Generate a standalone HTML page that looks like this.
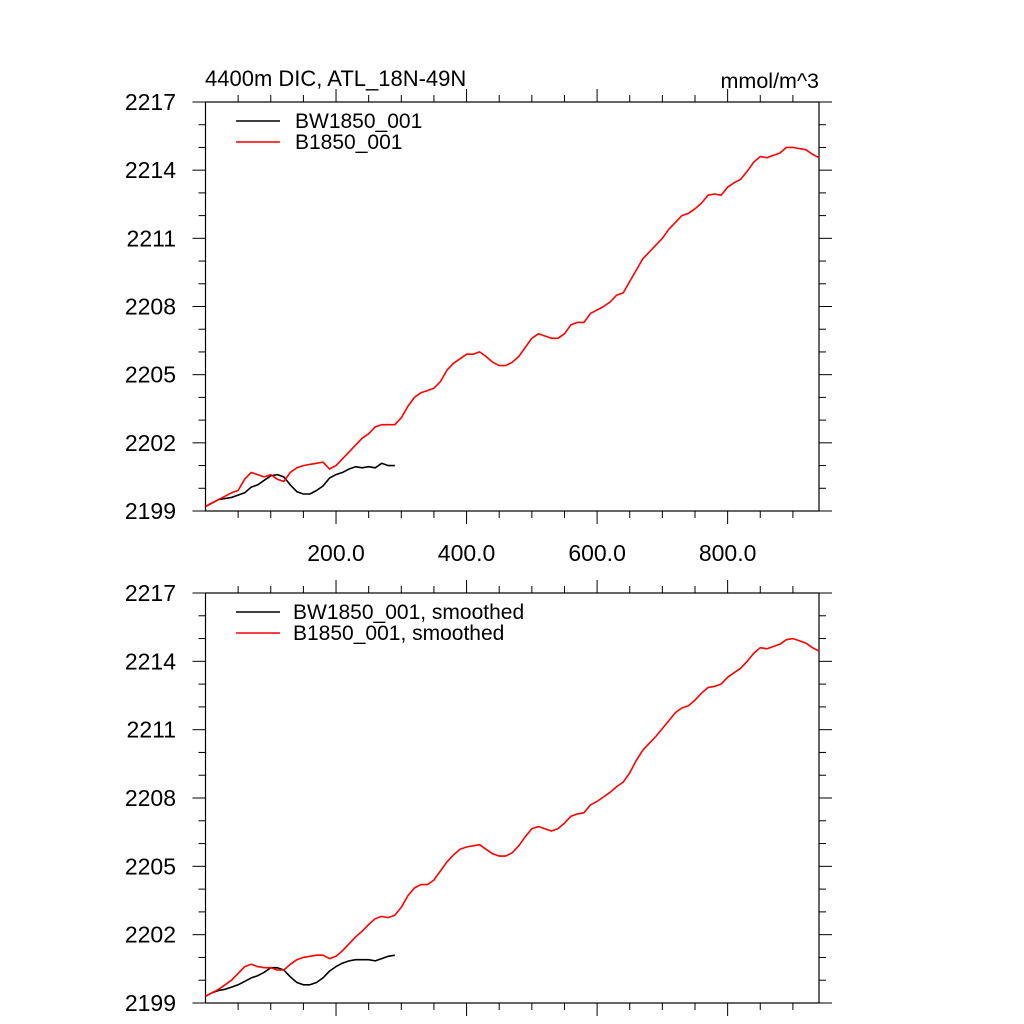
<!DOCTYPE html>
<html><head><meta charset="utf-8"><style>
html,body{margin:0;padding:0;background:#fff;}
svg{display:block;font-family:"Liberation Sans",sans-serif;}
</style></head><body>
<svg id="chart" width="1024" height="1024" viewBox="0 0 1024 1024"></svg>
<script>
const xStep = 10;
const redRaw = [2199.2,2199.35,2199.5,2199.65,2199.8,2199.9,2200.4,2200.7,2200.6,2200.5,2200.6,2200.4,2200.3,2200.7,2200.9,2201.0,2201.05,2201.1,2201.15,2200.85,2201.0,2201.3,2201.6,2201.9,2202.2,2202.4,2202.7,2202.8,2202.8,2202.8,2203.1,2203.6,2204.0,2204.2,2204.3,2204.4,2204.7,2205.2,2205.5,2205.7,2205.9,2205.9,2206.0,2205.8,2205.55,2205.4,2205.4,2205.55,2205.8,2206.2,2206.6,2206.8,2206.7,2206.6,2206.6,2206.8,2207.2,2207.3,2207.3,2207.7,2207.85,2208.0,2208.2,2208.5,2208.6,2209.1,2209.6,2210.1,2210.4,2210.7,2211.0,2211.4,2211.7,2212.0,2212.1,2212.3,2212.55,2212.9,2212.95,2212.9,2213.25,2213.45,2213.6,2213.95,2214.35,2214.6,2214.55,2214.65,2214.75,2215.0,2215.0,2214.95,2214.9,2214.7,2214.55];
const blackRaw = [2199.2,2199.35,2199.5,2199.55,2199.6,2199.7,2199.8,2200.05,2200.15,2200.35,2200.55,2200.6,2200.5,2200.15,2199.85,2199.75,2199.75,2199.9,2200.1,2200.45,2200.6,2200.7,2200.85,2200.95,2200.9,2200.95,2200.9,2201.1,2201.0,2201.0];
const redSmooth = [2199.3,2199.45,2199.6,2199.8,2200.0,2200.3,2200.6,2200.7,2200.6,2200.55,2200.55,2200.45,2200.45,2200.7,2200.9,2201.0,2201.05,2201.1,2201.1,2200.95,2201.05,2201.3,2201.6,2201.9,2202.15,2202.45,2202.7,2202.8,2202.75,2202.85,2203.2,2203.7,2204.05,2204.2,2204.2,2204.4,2204.8,2205.2,2205.5,2205.75,2205.85,2205.9,2205.95,2205.75,2205.55,2205.45,2205.45,2205.6,2205.9,2206.3,2206.65,2206.75,2206.65,2206.55,2206.65,2206.9,2207.2,2207.3,2207.35,2207.7,2207.85,2208.05,2208.25,2208.5,2208.7,2209.1,2209.65,2210.1,2210.4,2210.7,2211.05,2211.4,2211.75,2211.95,2212.05,2212.3,2212.6,2212.85,2212.9,2213.0,2213.3,2213.5,2213.7,2214.0,2214.35,2214.6,2214.55,2214.65,2214.75,2214.95,2215.0,2214.9,2214.8,2214.6,2214.45];
const blackSmooth = [2199.3,2199.45,2199.55,2199.6,2199.7,2199.8,2199.95,2200.1,2200.2,2200.35,2200.55,2200.55,2200.45,2200.15,2199.9,2199.8,2199.8,2199.9,2200.1,2200.4,2200.6,2200.75,2200.85,2200.9,2200.9,2200.9,2200.85,2200.95,2201.05,2201.1];
const yTicks = [2199,2202,2205,2208,2211,2214,2217];
const xTickVals = [200,400,600,800];
const xTickLabels = ["200.0","400.0","600.0","800.0"];

const NS="http://www.w3.org/2000/svg";
const svg=document.getElementById('chart');
const L=205.5,R=819,XMAX=940,YMIN=2199,YMAX=2217;
function sx(v){return L+(R-L)*v/XMAX;}
function mk(t,a,p){const e=document.createElementNS(NS,t);for(const k in a)e.setAttribute(k,a[k]);(p||svg).appendChild(e);return e;}
function panel(top,bottom,s1,s2,leg1,leg2,legX,showX,name){
  const g=mk('g',{});
  
  
  const sy=v=>bottom-(bottom-top)*(v-YMIN)/(YMAX-YMIN);
  for(let v=YMIN;v<=YMAX;v++){
    const maj=(v-YMIN)%3===0, len=maj?13:7;
    mk('line',{x1:L,x2:L-len,y1:sy(v),y2:sy(v),stroke:'#000','stroke-width':1},g);
    mk('line',{x1:R,x2:R+len,y1:sy(v),y2:sy(v),stroke:'#000','stroke-width':1},g);
  }
  for(let v=50;v<XMAX;v+=50){
    const maj=v%200===0, len=maj?13:7;
    mk('line',{x1:sx(v),x2:sx(v),y1:bottom,y2:bottom+len,stroke:'#000','stroke-width':1},g);
    mk('line',{x1:sx(v),x2:sx(v),y1:top,y2:top-len,stroke:'#000','stroke-width':1},g);
  }
  const fr=mk('rect',{x:L,y:top,width:R-L,height:bottom-top,fill:'none',stroke:'#000','stroke-width':1.2},g);
  
  
  yTicks.forEach(v=>{
    const t=mk('text',{x:176,y:sy(v)+8,'text-anchor':'end','font-size':23},g);
    t.textContent=v;
    
    
  });
  if(showX){
    xTickVals.forEach((v,i)=>{
      const t=mk('text',{x:sx(v),y:bottom+50,'text-anchor':'middle','font-size':23},g);
      t.textContent=xTickLabels[i];
      
      
    });
  }
  const line=(arr,col,nm)=>{
    const d=arr.map((v,i)=>(i?'L':'M')+sx(i*xStep).toFixed(1)+','+sy(v).toFixed(1)).join('');
    const p=mk('path',{d:d,fill:'none',stroke:col,'stroke-width':1.6,'stroke-linejoin':'round'},g);
    
    
  };
  line(s2,'#000','series-bw1850');
  line(s1,'#f00','series-b1850');
  [[leg1,'#000',top+19],[leg2,'#f00',top+40]].forEach(([txt,col,y])=>{
    mk('line',{x1:236,x2:280,y1:y,y2:y,stroke:col,'stroke-width':1.5},g);
    const t=mk('text',{x:legX,y:y+7,'font-size':21},g);
    t.textContent=txt;
    
    
  });
}
const t1=mk('text',{x:205,y:86,'font-size':22});
t1.textContent='4400m DIC, ATL_18N-49N';


const t2=mk('text',{x:819,y:88,'text-anchor':'end','font-size':21.5});
t2.textContent='mmol/m^3';


panel(102,511,redRaw,blackRaw,'BW1850_001','B1850_001',295,true,'top-panel');
panel(593,1003,redSmooth,blackSmooth,'BW1850_001, smoothed','B1850_001, smoothed',293,false,'bottom-panel');
</script>
</body></html>
